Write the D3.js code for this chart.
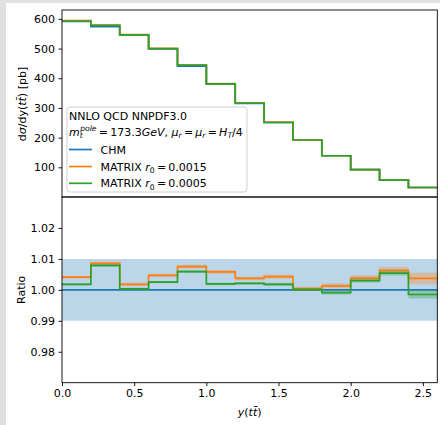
<!DOCTYPE html>
<html>
<head>
<meta charset="utf-8">
<script src="https://cdn.jsdelivr.net/npm/d3@7"></script>
<style>
  html, body { margin: 0; padding: 0; background: #e0e0e0; }
  svg { display: block; font-family: "DejaVu Sans", sans-serif; }
</style>
</head>
<body>
<svg id="chart" width="440" height="425"></svg>
<script>
// bin edges in y(ttbar)
const binEdges = [0.0, 0.2, 0.4, 0.6, 0.8, 1.0, 1.2, 1.4, 1.6, 1.8, 2.0, 2.2, 2.4, 2.6];

// upper panel: dsigma/dy [pb]
const chmXsec     = [592, 574, 546, 499, 441, 380, 315, 251, 192, 139, 92, 57, 32];
const matrix15Xsec = [594, 579, 547, 501, 444, 382, 316, 252, 192, 139, 92, 57, 32];
const matrix05Xsec = [593, 578, 546, 500, 444, 381, 316, 251, 192, 139, 92, 57, 32];

// lower panel: ratio to CHM
const chmRatio      = [1, 1, 1, 1, 1, 1, 1, 1, 1, 1, 1, 1, 1];
const chmRatioErr   = [0.0100, 0.0100, 0.0100, 0.0100, 0.0100, 0.0100, 0.0100, 0.0100, 0.0100, 0.0100, 0.0100, 0.0100, 0.0100];
const matrix15Ratio = [1.0041, 1.0086, 1.0018, 1.0047, 1.0075, 1.0058, 1.0037, 1.0043, 1.0004, 1.0013, 1.0038, 1.0063, 1.0037];
const matrix15Err   = [0.0004, 0.0006, 0.0005, 0.0005, 0.0006, 0.0006, 0.0006, 0.0007, 0.0006, 0.0008, 0.0009, 0.0011, 0.0019];
const matrix05Ratio = [1.0018, 1.0079, 1.0003, 1.0025, 1.0059, 1.0019, 1.0021, 1.0018, 1.0001, 0.9991, 1.0030, 1.0054, 0.9985];
const matrix05Err   = [0.0003, 0.0004, 0.0004, 0.0004, 0.0004, 0.0004, 0.0004, 0.0005, 0.0005, 0.0006, 0.0006, 0.0008, 0.0013];

const topTicks = [100, 200, 300, 400, 500, 600];
const ratioTicks = [0.98, 0.99, 1.00, 1.01, 1.02];
const xTicks = [0.0, 0.5, 1.0, 1.5, 2.0, 2.5];

const C0 = '#1f77b4', C1 = '#ff7f0e', C2 = '#2ca02c';
const FS = 11;

const svg = d3.select('#chart');
svg.append('rect').attr('x', 6).attr('y', 3).attr('width', 434).attr('height', 422).attr('fill', '#fff');

const left = 62, right = 437.3;
const x = d3.scaleLinear().domain([0, 2.6]).range([left, right]);
const yTop = d3.scaleLinear().domain([0, 630]).range([197, 10]);
const yBot = d3.scaleLinear().domain([0.97, 1.03]).range([382.7, 197]);

// step helpers: one point per bin lower edge, plus the closing edge
function stepPoints(vals, errs) {
    const pts = vals.map((v, i) => ({ x: binEdges[i], v, e: errs ? errs[i] : 0 }));
    const last = pts[pts.length - 1];
    pts.push({ x: binEdges[binEdges.length - 1], v: last.v, e: last.e });
    return pts;
}
const lineFor = y => d3.line().curve(d3.curveStepAfter).x(d => x(d.x)).y(d => y(d.v));
const bandFor = y => d3.area().curve(d3.curveStepAfter).x(d => x(d.x))
    .y0(d => y(d.v - d.e)).y1(d => y(d.v + d.e));

// ---- upper panel ----
const gTop = svg.append('g');
[[chmXsec, C0], [matrix15Xsec, C1], [matrix05Xsec, C2]].forEach(([vals, col]) => {
    gTop.append('path').attr('d', lineFor(yTop)(stepPoints(vals)))
        .attr('fill', 'none').attr('stroke', col).attr('stroke-width', 1.7);
});

// ---- lower panel ----
const gBot = svg.append('g');
const series = [
    [chmRatio, chmRatioErr, C0],
    [matrix15Ratio, matrix15Err, C1],
    [matrix05Ratio, matrix05Err, C2]
];
series.forEach(([vals, errs, col]) => {
    const pts = stepPoints(vals, errs);
    gBot.append('path').attr('d', bandFor(yBot)(pts)).attr('fill', col).attr('fill-opacity', 0.3);
    gBot.append('path').attr('d', lineFor(yBot)(pts))
        .attr('fill', 'none').attr('stroke', col).attr('stroke-width', 1.7);
});

// ---- axes ----
function styleAxis(g) {
    g.selectAll('.domain').remove();
    g.selectAll('.tick line').attr('stroke', '#000').attr('stroke-width', 0.9);
    g.selectAll('.tick text').attr('fill', '#000').style('font-size', FS + 'px')
        .style('font-family', '"DejaVu Sans", sans-serif');
}
svg.append('g').attr('transform', `translate(${left},0)`)
    .call(d3.axisLeft(yTop).tickValues(topTicks).tickSize(3.5).tickPadding(3.5).tickFormat(d3.format('d')))
    .call(styleAxis);
svg.append('g').attr('transform', `translate(${left},0)`)
    .call(d3.axisLeft(yBot).tickValues(ratioTicks).tickSize(3.5).tickPadding(3.5).tickFormat(d3.format('.2f')))
    .call(styleAxis);
svg.append('g').attr('transform', `translate(0,${yBot(0.97)})`)
    .call(d3.axisBottom(x).tickValues(xTicks).tickSize(3.5).tickPadding(3.5).tickFormat(d3.format('.1f')))
    .call(styleAxis);

// frames
[[yTop(630), yTop(0)], [yBot(1.03), yBot(0.97)]].forEach(([t, b]) => {
    svg.append('rect').attr('x', left).attr('y', t).attr('width', right - left).attr('height', b - t)
        .attr('fill', 'none').attr('stroke', '#000').attr('stroke-width', 0.9);
});

// ---- axis labels ----
const ylab = svg.append('text').attr('transform', 'translate(26,104) rotate(-90)')
    .attr('text-anchor', 'middle').style('font-size', FS + 'px');
ylab.append('tspan').text('d');
ylab.append('tspan').attr('font-style', 'italic').text('σ');
ylab.append('tspan').text('/dy(');
ylab.append('tspan').attr('font-style', 'italic').text('tt\u0304');
ylab.append('tspan').text(') [pb]');

svg.append('text').attr('transform', `translate(22,${yBot(1)}) rotate(-90)`)
    .attr('text-anchor', 'middle').attr('dominant-baseline', 'middle')
    .style('font-size', FS + 'px').text('Ratio');

const xlab = svg.append('text').attr('x', (left + right) / 2).attr('y', 416)
    .attr('text-anchor', 'middle').style('font-size', FS + 'px');
xlab.append('tspan').attr('font-style', 'italic').text('y');
xlab.append('tspan').text('(');
xlab.append('tspan').attr('font-style', 'italic').text('tt\u0304');
xlab.append('tspan').text(')');

// ---- legend ----
const leg = svg.append('g');
leg.append('rect').attr('x', 67).attr('y', 107).attr('width', 180).attr('height', 85).attr('rx', 3)
    .attr('fill', '#fff').attr('fill-opacity', 0.8).attr('stroke', '#cccccc').attr('stroke-width', 0.9);
leg.append('text').attr('x', 69).attr('y', 120).style('font-size', FS + 'px').text('NNLO QCD NNPDF3.0');

const SM = 7.7;
const l2 = leg.append('text').attr('x', 69).attr('y', 135.5).style('font-size', FS + 'px');
l2.append('tspan').attr('font-style', 'italic').text('m');
l2.append('tspan').attr('font-style', 'italic').style('font-size', SM + 'px').attr('dy', 2.5).text('t');
l2.append('tspan').attr('font-style', 'italic').style('font-size', SM + 'px').attr('dx', -2.6).attr('dy', -7.5).text('pole');
l2.append('tspan').attr('dy', 5).text('\u2009=\u2009173.3');
l2.append('tspan').attr('font-style', 'italic').text('GeV');
l2.append('tspan').text(', ');
l2.append('tspan').attr('font-style', 'italic').text('μ');
l2.append('tspan').attr('font-style', 'italic').style('font-size', SM + 'px').attr('dy', 2.5).text('r');
l2.append('tspan').attr('dy', -2.5).text('\u2009=\u2009');
l2.append('tspan').attr('font-style', 'italic').text('μ');
l2.append('tspan').attr('font-style', 'italic').style('font-size', SM + 'px').attr('dy', 2.5).text('r');
l2.append('tspan').attr('dy', -2.5).text('\u2009=\u2009');
l2.append('tspan').attr('font-style', 'italic').text('H');
l2.append('tspan').attr('font-style', 'italic').style('font-size', SM + 'px').attr('dy', 2.5).text('T');
l2.append('tspan').attr('dy', -2.5).text('/4');

const entries = [
    { col: C0, y: 149.5, parts: [['CHM', '']] },
    { col: C1, y: 166.5, parts: [['MATRIX ', ''], ['r', 'i'], ['0', 'sub'], ['\u2009=\u20090.0015', 'base']] },
    { col: C2, y: 183.3, parts: [['MATRIX ', ''], ['r', 'i'], ['0', 'sub'], ['\u2009=\u20090.0005', 'base']] }
];
entries.forEach(en => {
    leg.append('line').attr('x1', 69).attr('x2', 92).attr('y1', en.y).attr('y2', en.y)
        .attr('stroke', en.col).attr('stroke-width', 1.7);
    const t = leg.append('text').attr('x', 100.5).attr('y', en.y + 4).style('font-size', FS + 'px');
    en.parts.forEach(([s, k]) => {
        const ts = t.append('tspan').text(s);
        if (k === 'i') ts.attr('font-style', 'italic');
        if (k === 'sub') ts.style('font-size', SM + 'px').attr('dy', 2.5);
        if (k === 'base') ts.attr('dy', -2.5);
    });
});
</script>
</body>
</html>
